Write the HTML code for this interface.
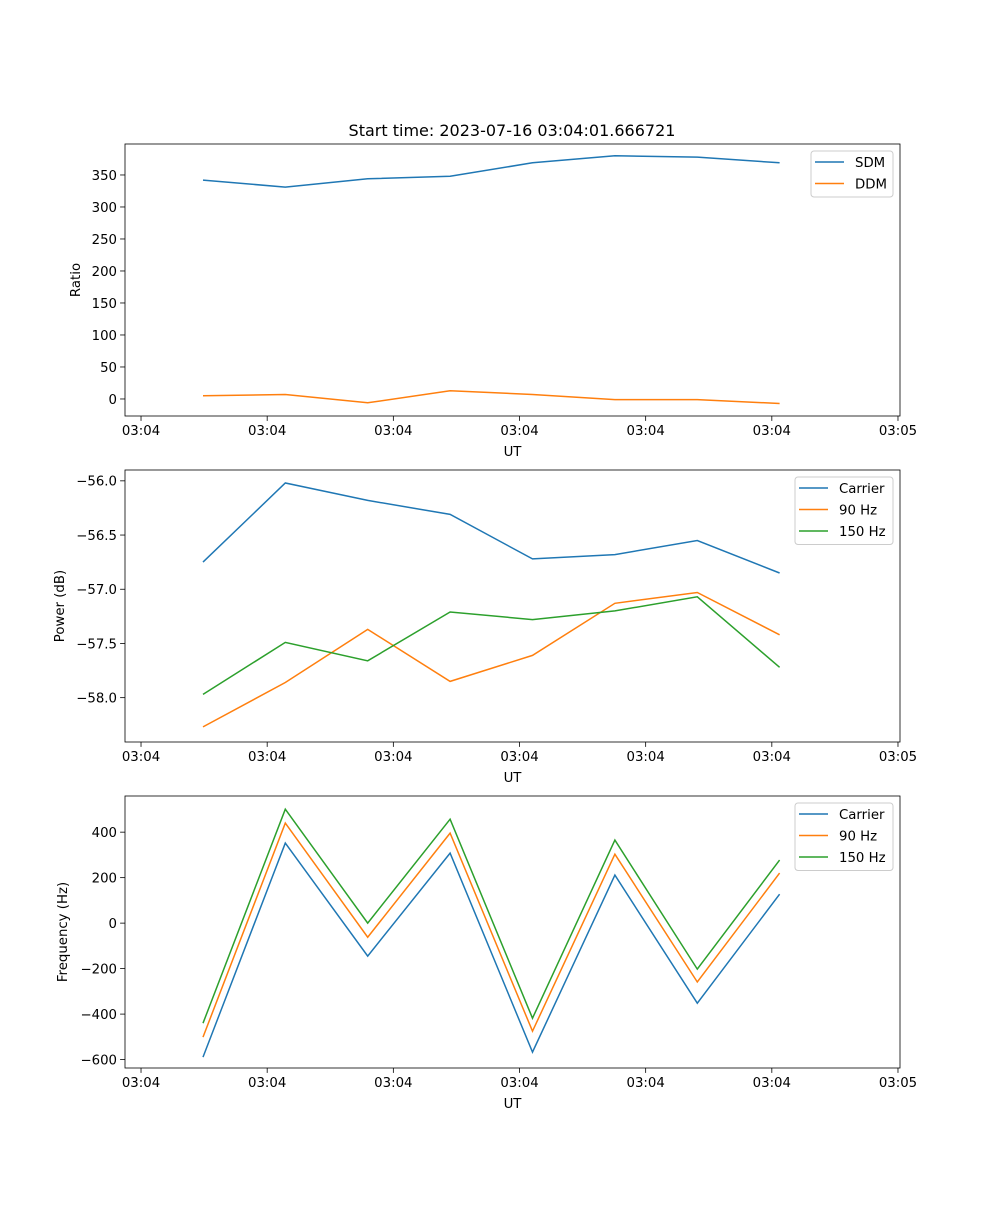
<!DOCTYPE html>
<html><head><meta charset="utf-8"><style>
body{margin:0;background:#fff}
svg text{font-family:"DejaVu Sans","Liberation Sans",sans-serif;font-size:13.3px;fill:#000}
</style></head><body>
<svg id="fig" width="1000" height="1200" xmlns="http://www.w3.org/2000/svg"></svg>
<script>
const times=[0.491,1.144,1.797,2.450,3.103,3.756,4.409,5.062];
const xTickVals=[0,1,2,3,4,5,6];
const xTickLabels=["03:04","03:04","03:04","03:04","03:04","03:04","03:05"];
const sdm=[342,331,344,348,369,380,378,369];
const ddm=[5,7,-6,13,7,-1,-1,-7];
const pCarrier=[-56.75,-56.02,-56.18,-56.31,-56.72,-56.68,-56.55,-56.85];
const p90=[-58.27,-57.86,-57.37,-57.85,-57.61,-57.13,-57.03,-57.42];
const p150=[-57.97,-57.49,-57.66,-57.21,-57.28,-57.20,-57.07,-57.72];
const fCarrier=[-589,352,-145,308,-567,211,-352,127];
const f90=[-501,440,-62,396,-475,303,-259,220];
const f150=[-440,501,0,457,-418,365,-202,277];
const ticks1=[0,50,100,150,200,250,300,350];
const ticks2=[-58.0,-57.5,-57.0,-56.5,-56.0];
const ticks3=[-600,-400,-200,0,200,400];

const NS="http://www.w3.org/2000/svg";
const svg=document.getElementById('fig');
function el(t,a,p){const e=document.createElementNS(NS,t);for(const k in a)e.setAttribute(k,a[k]);(p||svg).appendChild(e);return e;}
const L=125,R=900,xmin=-0.127,xmax=6.016;
const xs=v=>L+(v-xmin)/(xmax-xmin)*(R-L);
function panel(name,top,ymin,ymax,yticks,fmt,ylabel,series,legend){
  const bot=top+272;
  const g=el('g',{});
  
  
  const ys=v=>bot-(v-ymin)/(ymax-ymin)*272;
  series.forEach(s=>{
    const pts=times.map((t,i)=>xs(t).toFixed(1)+','+ys(s.v[i]).toFixed(1)).join(' ');
    const pl=el('polyline',{points:pts,fill:'none',stroke:s.c,'stroke-width':1.5},g);
    
    
  });
  el('rect',{x:L,y:top,width:R-L,height:272,fill:'none',stroke:'#000','stroke-width':0.8},g);
  xTickVals.forEach((v,i)=>{
    const x=xs(v);
    el('line',{x1:x,y1:bot,x2:x,y2:bot+4.9,stroke:'#000','stroke-width':0.8},g);
    const t=el('text',{x:x,y:bot+19,'text-anchor':'middle'},g);t.textContent=xTickLabels[i];
    
    
  });
  yticks.forEach(v=>{
    const y=ys(v);
    el('line',{x1:L,y1:y,x2:L-4.9,y2:y,stroke:'#000','stroke-width':0.8},g);
    const t=el('text',{x:L-8,y:y+4.8,'text-anchor':'end'},g);t.textContent=fmt(v);
    
    
  });
  const xl=el('text',{x:(L+R)/2,y:bot+40,'text-anchor':'middle'},g);xl.textContent='UT';
  
  
  const yl=el('text',{x:0,y:0,'text-anchor':'middle',transform:`translate(${legend.yx},${top+136}) rotate(-90)`},g);yl.textContent=ylabel;
  
  
  const lg=el('g',{},g);
  
  
  const h=series.length*21.5+3;
  el('rect',{x:legend.x,y:top+7,width:R-7-legend.x,height:h,rx:3,fill:'#fff',stroke:'#ccc','fill-opacity':0.8},lg);
  series.forEach((s,i)=>{
    const y=top+18+i*21.5;
    el('line',{x1:legend.x+4,y1:y,x2:legend.x+33,y2:y,stroke:s.c,'stroke-width':1.5},lg);
    const t=el('text',{x:legend.x+44,y:y+4.8},lg);t.textContent=s.label;
    
    
  });
}
const title=el('text',{x:512,y:136,'text-anchor':'middle',style:'font-size:16px'});
title.textContent='Start time: 2023-07-16 03:04:01.666721';


const B='#1f77b4',O='#ff7f0e',G='#2ca02c';
panel('ratio-panel',144,-26.6,398.4,ticks1,v=>String(v),'Ratio',
  [{v:sdm,c:B,n:'sdm',label:'SDM'},{v:ddm,c:O,n:'ddm',label:'DDM'}],{x:811,yx:80});
panel('power-panel',470,-58.409,-55.9,ticks2,v=>'\u2212'+Math.abs(v).toFixed(1),'Power (dB)',
  [{v:pCarrier,c:B,n:'carrier',label:'Carrier'},{v:p90,c:O,n:'hz90',label:'90 Hz'},{v:p150,c:G,n:'hz150',label:'150 Hz'}],{x:795,yx:64});
panel('frequency-panel',796,-637,559,ticks3,v=>(v<0?'\u2212':'')+Math.abs(v),'Frequency (Hz)',
  [{v:fCarrier,c:B,n:'carrier',label:'Carrier'},{v:f90,c:O,n:'hz90',label:'90 Hz'},{v:f150,c:G,n:'hz150',label:'150 Hz'}],{x:795,yx:67});
</script>
</body></html>
